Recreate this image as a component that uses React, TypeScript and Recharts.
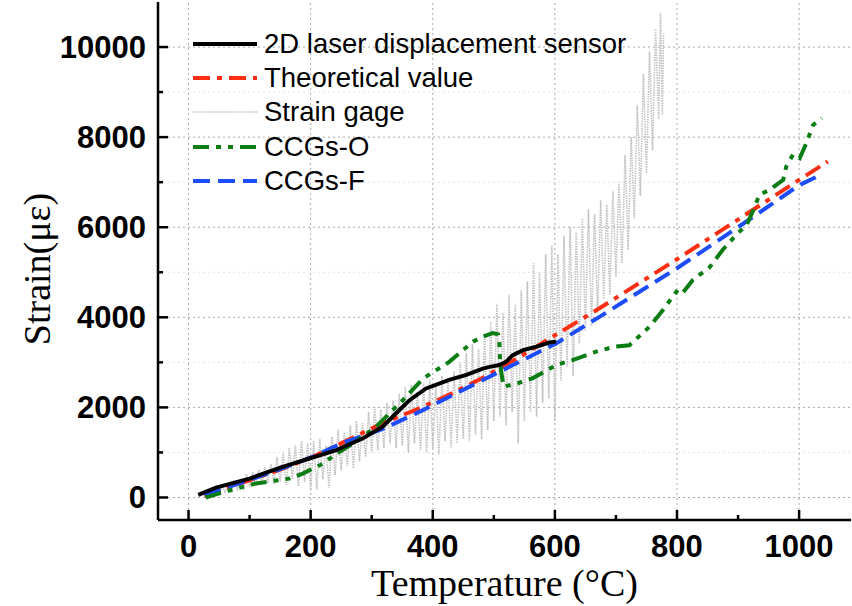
import { LineChart, Line, XAxis, YAxis, ReferenceLine, Legend } from 'recharts';

document.body.style.margin = '0';

// temperature (°C) / strain (με)
const laserT = [16, 45, 100, 154, 198, 242, 285, 318, 340, 362, 389, 427, 455, 482, 493, 509, 520, 531, 548, 570, 591, 602];
const laserV = [60, 220, 420, 680, 865, 1050, 1310, 1570, 1870, 2160, 2420, 2610, 2720, 2860, 2900, 2940, 3010, 3160, 3270, 3350, 3440, 3460];

const theoryT = [26, 60, 100, 150, 203, 250, 313, 378, 430, 482, 540, 600, 673, 800, 900, 1000, 1047];
const theoryV = [30, 200, 380, 620, 900, 1200, 1620, 1980, 2300, 2660, 3100, 3600, 4200, 5290, 6170, 7050, 7460];

const ccgfT = [26, 60, 100, 150, 203, 250, 318, 384, 466, 537, 602, 673, 800, 901, 1001, 1038];
const ccgfV = [60, 210, 390, 630, 900, 1200, 1520, 1940, 2500, 2980, 3420, 4010, 5090, 6010, 6940, 7180];

const ccgoT = [28, 78, 110, 140, 165, 187, 220, 242, 274, 307, 351, 384, 427, 466, 480, 498, 507, 509, 510, 512, 516, 540, 564, 602, 629, 668, 698, 722, 755, 777, 799, 807, 826, 854, 875, 897, 914, 925, 935, 952, 974, 979, 990, 1001, 1012, 1023, 1037];
const ccgoV = [0, 200, 310, 370, 420, 530, 750, 970, 1240, 1570, 2160, 2640, 3010, 3460, 3560, 3650, 3620, 3450, 3100, 2800, 2460, 2540, 2650, 2940, 3050, 3240, 3350, 3380, 3790, 4160, 4570, 4500, 4830, 5120, 5500, 5830, 6050, 6380, 6720, 6830, 7050, 7350, 7610, 7530, 7870, 8270, 8420];

const gageT = [
  40, 45, 50, 55, 60, 65, 70, 75, 80, 85,
  90, 95, 100, 105, 110, 115, 120, 125, 130, 135,
  140, 145, 150, 155, 160, 165, 170, 175, 180, 185,
  190, 195, 200, 205, 210, 215, 220, 225, 230, 235,
  240, 245, 250, 255, 260, 265, 270, 275, 280, 285,
  290, 295, 300, 305, 310, 315, 320, 325, 330, 335,
  340, 345, 350, 355, 360, 365, 370, 375, 380, 385,
  390, 395, 400, 405, 410, 415, 420, 425, 430, 435,
  440, 445, 450, 455, 460, 465, 470, 475, 480, 485,
  490, 495, 500, 505, 510, 515, 520, 525, 530, 535,
  540, 545, 550, 555, 560, 565, 570, 575, 580, 585,
  590, 595, 600, 605, 610, 615, 620, 625, 630, 635,
  640, 645, 650, 655, 660, 665, 670, 675, 680, 685,
  690, 695, 700, 705, 710, 715, 720, 725, 730, 735,
  740, 745, 750, 755, 760, 765, 770, 773, 776, 778,
];
const gageV = [
  80, 220, 60, 260, 120, 300, 140, 380, 180, 420,
  200, 520, 230, 560, 260, 620, 300, 680, 320, 740,
  300, 900, 350, 1000, 280, 1100, 400, 1150, 250, 1250,
  350, 1200, 150, 1250, 180, 1300, 400, 1150, 220, 1350,
  500, 1500, 600, 1450, 700, 1600, 650, 1700, 800, 1650,
  900, 1900, 1000, 2000, 1050, 1950, 1100, 2100, 1200, 2150,
  1100, 2300, 1150, 2450, 1000, 2500, 1200, 2350, 1050, 2550,
  1000, 2600, 1100, 2500, 950, 2700, 1250, 2650, 1100, 2800,
  1200, 3000, 1300, 3200, 1250, 3400, 1400, 3300, 1300, 3650,
  1500, 3900, 1700, 4300, 1800, 4100, 1600, 4500, 1900, 4300,
  1200, 4600, 1700, 4800, 1900, 5200, 1800, 5000, 2100, 5400,
  2200, 5600, 1700, 5400, 2600, 5800, 2900, 6000, 2700, 5900,
  3400, 6200, 3700, 6400, 3800, 6300, 4100, 6600, 4400, 6500,
  4500, 6800, 4900, 7000, 5200, 7600, 5500, 8000, 6200, 8700,
  6700, 9400, 7200, 9900, 7700, 10400, 8400, 10750, 8500, 10300,
];

const xTicks = [0, 100, 200, 300, 400, 500, 600, 700, 800, 900, 1000];
const yTicks = [0, 1000, 2000, 3000, 4000, 5000, 6000, 7000, 8000, 9000, 10000];
const xGrid = [0, 200, 400, 600, 800, 1000];
const yGrid = [0, 2000, 4000, 6000, 8000, 10000];
const yGridMinor = [1000, 3000, 5000, 7000, 9000];

const zip = (t: number[], v: number[]) => t.map((x, i) => ({ t: x, v: v[i] }));

const series = [
  { name: '2D laser displacement sensor', data: zip(laserT, laserV), color: '#000000', width: 4, dash: undefined as string | undefined },
  { name: 'Theoretical value', data: zip(theoryT, theoryV), color: '#fc2f14', width: 4, dash: '17 7 5 7' },
  { name: 'Strain gage', data: zip(gageT, gageV), color: '#c2c2c2', width: 1.6, dash: '1.5 1' },
  { name: 'CCGs-O', data: zip(ccgoT, ccgoV), color: '#0b7d12', width: 4, dash: '16 7 5 7 5 7' },
  { name: 'CCGs-F', data: zip(ccgfT, ccgfV), color: '#1d4dfa', width: 4, dash: '17 8' },
];
const drawOrder = ['Strain gage', 'Theoretical value', 'CCGs-F', 'CCGs-O', '2D laser displacement sensor'];

const tickFont = { fontFamily: 'Liberation Sans, Arial, sans-serif', fontWeight: 700, fontSize: 31, fill: '#000' };
const titleFont = { fontFamily: 'Liberation Serif, Times New Roman, serif', fontSize: 38, fill: '#000' };

const BottomTick = ({ x, y, payload }: any) => {
  const major = payload.value % 200 === 0;
  return (
    <g>
      <line x1={x} y1={y} x2={x} y2={y - (major ? 10 : 5)} stroke="#000" strokeWidth={2.5} />
      {major && <text x={x} y={y + 37} textAnchor="middle" style={tickFont}>{payload.value}</text>}
    </g>
  );
};

const TopTick = ({ x, y, payload }: any) => {
  const major = payload.value % 200 === 0;
  return <line x1={x} y1={y} x2={x} y2={y + (major ? 10 : 5)} stroke="#000" strokeWidth={2.5} />;
};

const LeftTick = ({ x, y, payload }: any) => {
  const major = payload.value % 2000 === 0;
  return (
    <g>
      <line x1={x} y1={y} x2={x + (major ? 10 : 5)} y2={y} stroke="#000" strokeWidth={2.5} />
      {major && <text x={x - 12} y={y + 11} textAnchor="end" style={tickFont}>{payload.value}</text>}
    </g>
  );
};

const RightTick = ({ x, y, payload }: any) => {
  const major = payload.value % 2000 === 0;
  return <line x1={x} y1={y} x2={x - (major ? 10 : 5)} y2={y} stroke="#000" strokeWidth={2.5} />;
};

const renderLegend = () => (
  <div style={{ fontFamily: 'Liberation Sans, Arial, sans-serif', fontSize: 27.5, color: '#000' }}>
    {series.map((s) => (
      <div key={s.name} style={{ display: 'flex', alignItems: 'center', height: 34.2, whiteSpace: 'nowrap' }}>
        <svg width={72} height={10} style={{ flex: 'none' }}>
          <line x1={1} y1={5} x2={65} y2={5} stroke={s.color} strokeWidth={s.width} strokeDasharray={s.dash} />
        </svg>
        <span>{s.name}</span>
      </div>
    ))}
  </div>
);

const axisLine = { stroke: '#000', strokeWidth: 2.5 };

export default function App() {
  return (
    <LineChart width={852} height={606} margin={{ top: 2, right: 1, bottom: 0, left: 0 }}>
      {xGrid.map((g) => (
        <ReferenceLine key={'x' + g} x={g} xAxisId="b" yAxisId="l" stroke="#a8a8a8" strokeDasharray="2 3" />
      ))}
      {yGrid.map((g) => (
        <ReferenceLine key={'y' + g} y={g} xAxisId="b" yAxisId="l" stroke="#a8a8a8" strokeDasharray="2 3" />
      ))}
      {yGridMinor.map((g) => (
        <ReferenceLine key={'m' + g} y={g} xAxisId="b" yAxisId="l" stroke="#e2e2e2" strokeDasharray="2 3" />
      ))}
      <XAxis
        xAxisId="b"
        dataKey="t"
        type="number"
        domain={[-50, 1085]}
        allowDataOverflow
        ticks={xTicks}
        interval={0}
        tickSize={0}
        tickMargin={0}
        tickLine={false}
        tick={<BottomTick />}
        axisLine={axisLine}
        height={86}
        label={{ value: 'Temperature (°C)', position: 'insideBottom', offset: 10, style: titleFont }}
      />
      <XAxis
        xAxisId="t"
        orientation="top"
        dataKey="t"
        type="number"
        domain={[-50, 1085]}
        allowDataOverflow
        ticks={xTicks}
        interval={0}
        tickSize={0}
        tickMargin={0}
        tickLine={false}
        tick={<TopTick />}
        axisLine={axisLine}
        height={0}
      />
      <YAxis
        yAxisId="l"
        type="number"
        domain={[-500, 11000]}
        allowDataOverflow
        ticks={yTicks}
        interval={0}
        tickSize={0}
        tickMargin={0}
        tickLine={false}
        tick={<LeftTick />}
        axisLine={axisLine}
        width={158}
        label={{
          content: () => (
            <text transform="translate(50,269) rotate(-90)" textAnchor="middle" style={titleFont}>
              Strain(με)
            </text>
          ),
        }}
      />
      <YAxis
        yAxisId="r"
        orientation="right"
        type="number"
        domain={[-500, 11000]}
        allowDataOverflow
        ticks={yTicks}
        interval={0}
        tickSize={0}
        tickMargin={0}
        tickLine={false}
        tick={<RightTick />}
        axisLine={axisLine}
        width={0}
      />
      <Legend
        layout="vertical"
        align="center"
        verticalAlign="middle"
        content={renderLegend}
        wrapperStyle={{ top: 27, left: 192, width: 'auto', height: 'auto' }}
      />
      {drawOrder.map((n) => {
        const s = series.find((q) => q.name === n)!;
        return (
          <Line
            key={s.name}
            xAxisId="b"
            yAxisId="l"
            data={s.data}
            dataKey="v"
            name={s.name}
            type="linear"
            stroke={s.color}
            strokeWidth={s.width}
            strokeDasharray={s.dash}
            dot={false}
            activeDot={false}
            isAnimationActive={false}
          />
        );
      })}
    </LineChart>
  );
}
